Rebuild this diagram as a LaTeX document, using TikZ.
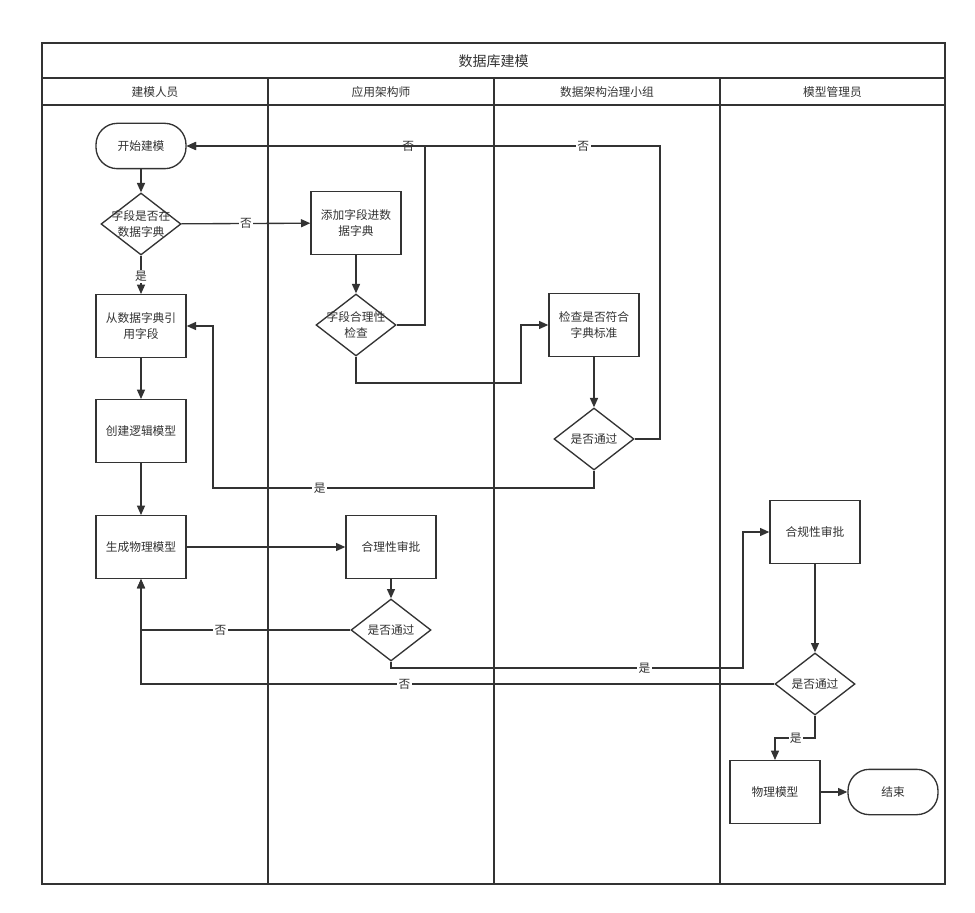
\documentclass[tikz,border=0pt]{standalone}
\usepackage{fontspec}
\setmainfont{Noto Sans CJK SC}
\usetikzlibrary{shapes.geometric,arrows.meta}
\definecolor{ln}{HTML}{333333}
\definecolor{tx}{HTML}{333333}
\tikzset{
  px/.style={x=0.75pt,y=-0.75pt},
  box/.style={draw=ln,line width=1pt,minimum width=67.5pt,minimum height=47pt,inner sep=0pt,align=center,font=\fontsize{8.8pt}{12pt}\selectfont,text=tx},
  term/.style={draw=ln,line width=1pt,rounded corners=16pt,minimum width=67.5pt,minimum height=34pt,inner sep=0pt,align=center,font=\fontsize{8.8pt}{12pt}\selectfont,text=tx},
  dia/.style={draw=ln,line width=1pt,diamond,minimum width=60pt,minimum height=46.5pt,inner sep=0pt},
  dtxt/.style={align=center,inner sep=0pt,font=\fontsize{8.8pt}{12pt}\selectfont,text=tx},
  lane/.style={font=\fontsize{8.8pt}{12pt}\selectfont,text=tx,inner sep=0pt},
  conn/.style={draw=ln,line width=1pt,-{Triangle[length=7pt,width=6pt]}},
  lbl/.style={fill=white,inner sep=1pt,font=\fontsize{8.8pt}{12pt}\selectfont,text=tx},
  frame/.style={draw=ln,line width=1pt}
}
\begin{document}
\begin{tikzpicture}[px]
\useasboundingbox (0,0) rectangle (975,913);
\fill[white] (0,0) rectangle (975,913);
% frame
\draw[frame] (42,43) rectangle (945,884);
\draw[frame] (42,78) -- (945,78);
\draw[frame] (42,105) -- (945,105);
\draw[frame] (268,78) -- (268,884);
\draw[frame] (494,78) -- (494,884);
\draw[frame] (720,78) -- (720,884);
\node[lane,font=\fontsize{10.5pt}{12pt}\selectfont] (title) at (493.5,61) {数据库建模};
\node[lane] (h1) at (155,92) {建模人员};
\node[lane] (h2) at (381,92) {应用架构师};
\node[lane] (h3) at (607,92) {数据架构治理小组};
\node[lane] (h4) at (832.5,92) {模型管理员};
% nodes
\node[term] (start) at (141,146) {开始建模};
\node[dia] (d1) at (141,224) {};
\node[dtxt] (d1t) at (d1) {字段是否在\\数据字典};
\node[box] (ref) at (141,326) {从数据字典引\\用字段};
\node[box] (logic) at (141,431) {创建逻辑模型};
\node[box] (phys) at (141,547) {生成物理模型};
\node[box] (add) at (356,223) {添加字段进数\\据字典};
\node[dia] (d2) at (356,325) {};
\node[dtxt] (d2t) at (d2) {字段合理性\\检查};
\node[box] (chk) at (594,325) {检查是否符合\\字典标准};
\node[dia] (d3) at (594,439) {};
\node[dtxt] (d3t) at (d3) {是否通过};
\node[box] (rat) at (391,547) {合理性审批};
\node[dia] (d4) at (391,630) {};
\node[dtxt] (d4t) at (d4) {是否通过};
\node[box] (comp) at (815,532) {合规性审批};
\node[dia] (d5) at (815,684) {};
\node[dtxt] (d5t) at (d5) {是否通过};
\node[box] (pm) at (775,792) {物理模型};
\node[term] (end) at (893,792) {结束};
% connectors
\draw[conn] (start) -- (d1);
\draw[conn] (d1) -- node[lbl,pos=0.5] {否} (add);
\draw[conn] (d1) -- node[lbl,pos=0.55] {是} (ref);
\draw[conn] (add) -- (d2);
\draw[conn] (d2.east) -| (425,146) -- node[lbl,pos=0.07] {否} (start.east);
\draw[conn] (d2.south) |- (521,383) |- (chk.west);
\draw[conn] (chk) -- (d3);
\draw[conn] (d3.south) |- node[lbl,pos=0.86] {是} (213,488) |- (ref.east);
\draw[conn] (d3.east) -| (660,146) -- node[lbl,pos=0.162] {否} (start.east);
\draw[conn] (ref) -- (logic);
\draw[conn] (logic) -- (phys);
\draw[conn] (phys) -- (rat);
\draw[conn] (rat) -- (d4);
\draw[conn] (d4.west) -- node[lbl,pos=0.62] {否} (141,630) -- (phys.south);
\draw[conn] (d4.south) |- node[lbl,pos=0.86] {是} (743,668) |- (comp.west);
\draw[conn] (comp) -- (d5);
\draw[conn] (d5.west) -- node[lbl,pos=0.584] {否} (141,684) -- (phys.south);
\draw[conn] (d5.south) |- node[lbl,pos=0.74] {是} (775,738) -- (pm.north);
\draw[conn] (pm) -- (end);
\end{tikzpicture}
\end{document}
